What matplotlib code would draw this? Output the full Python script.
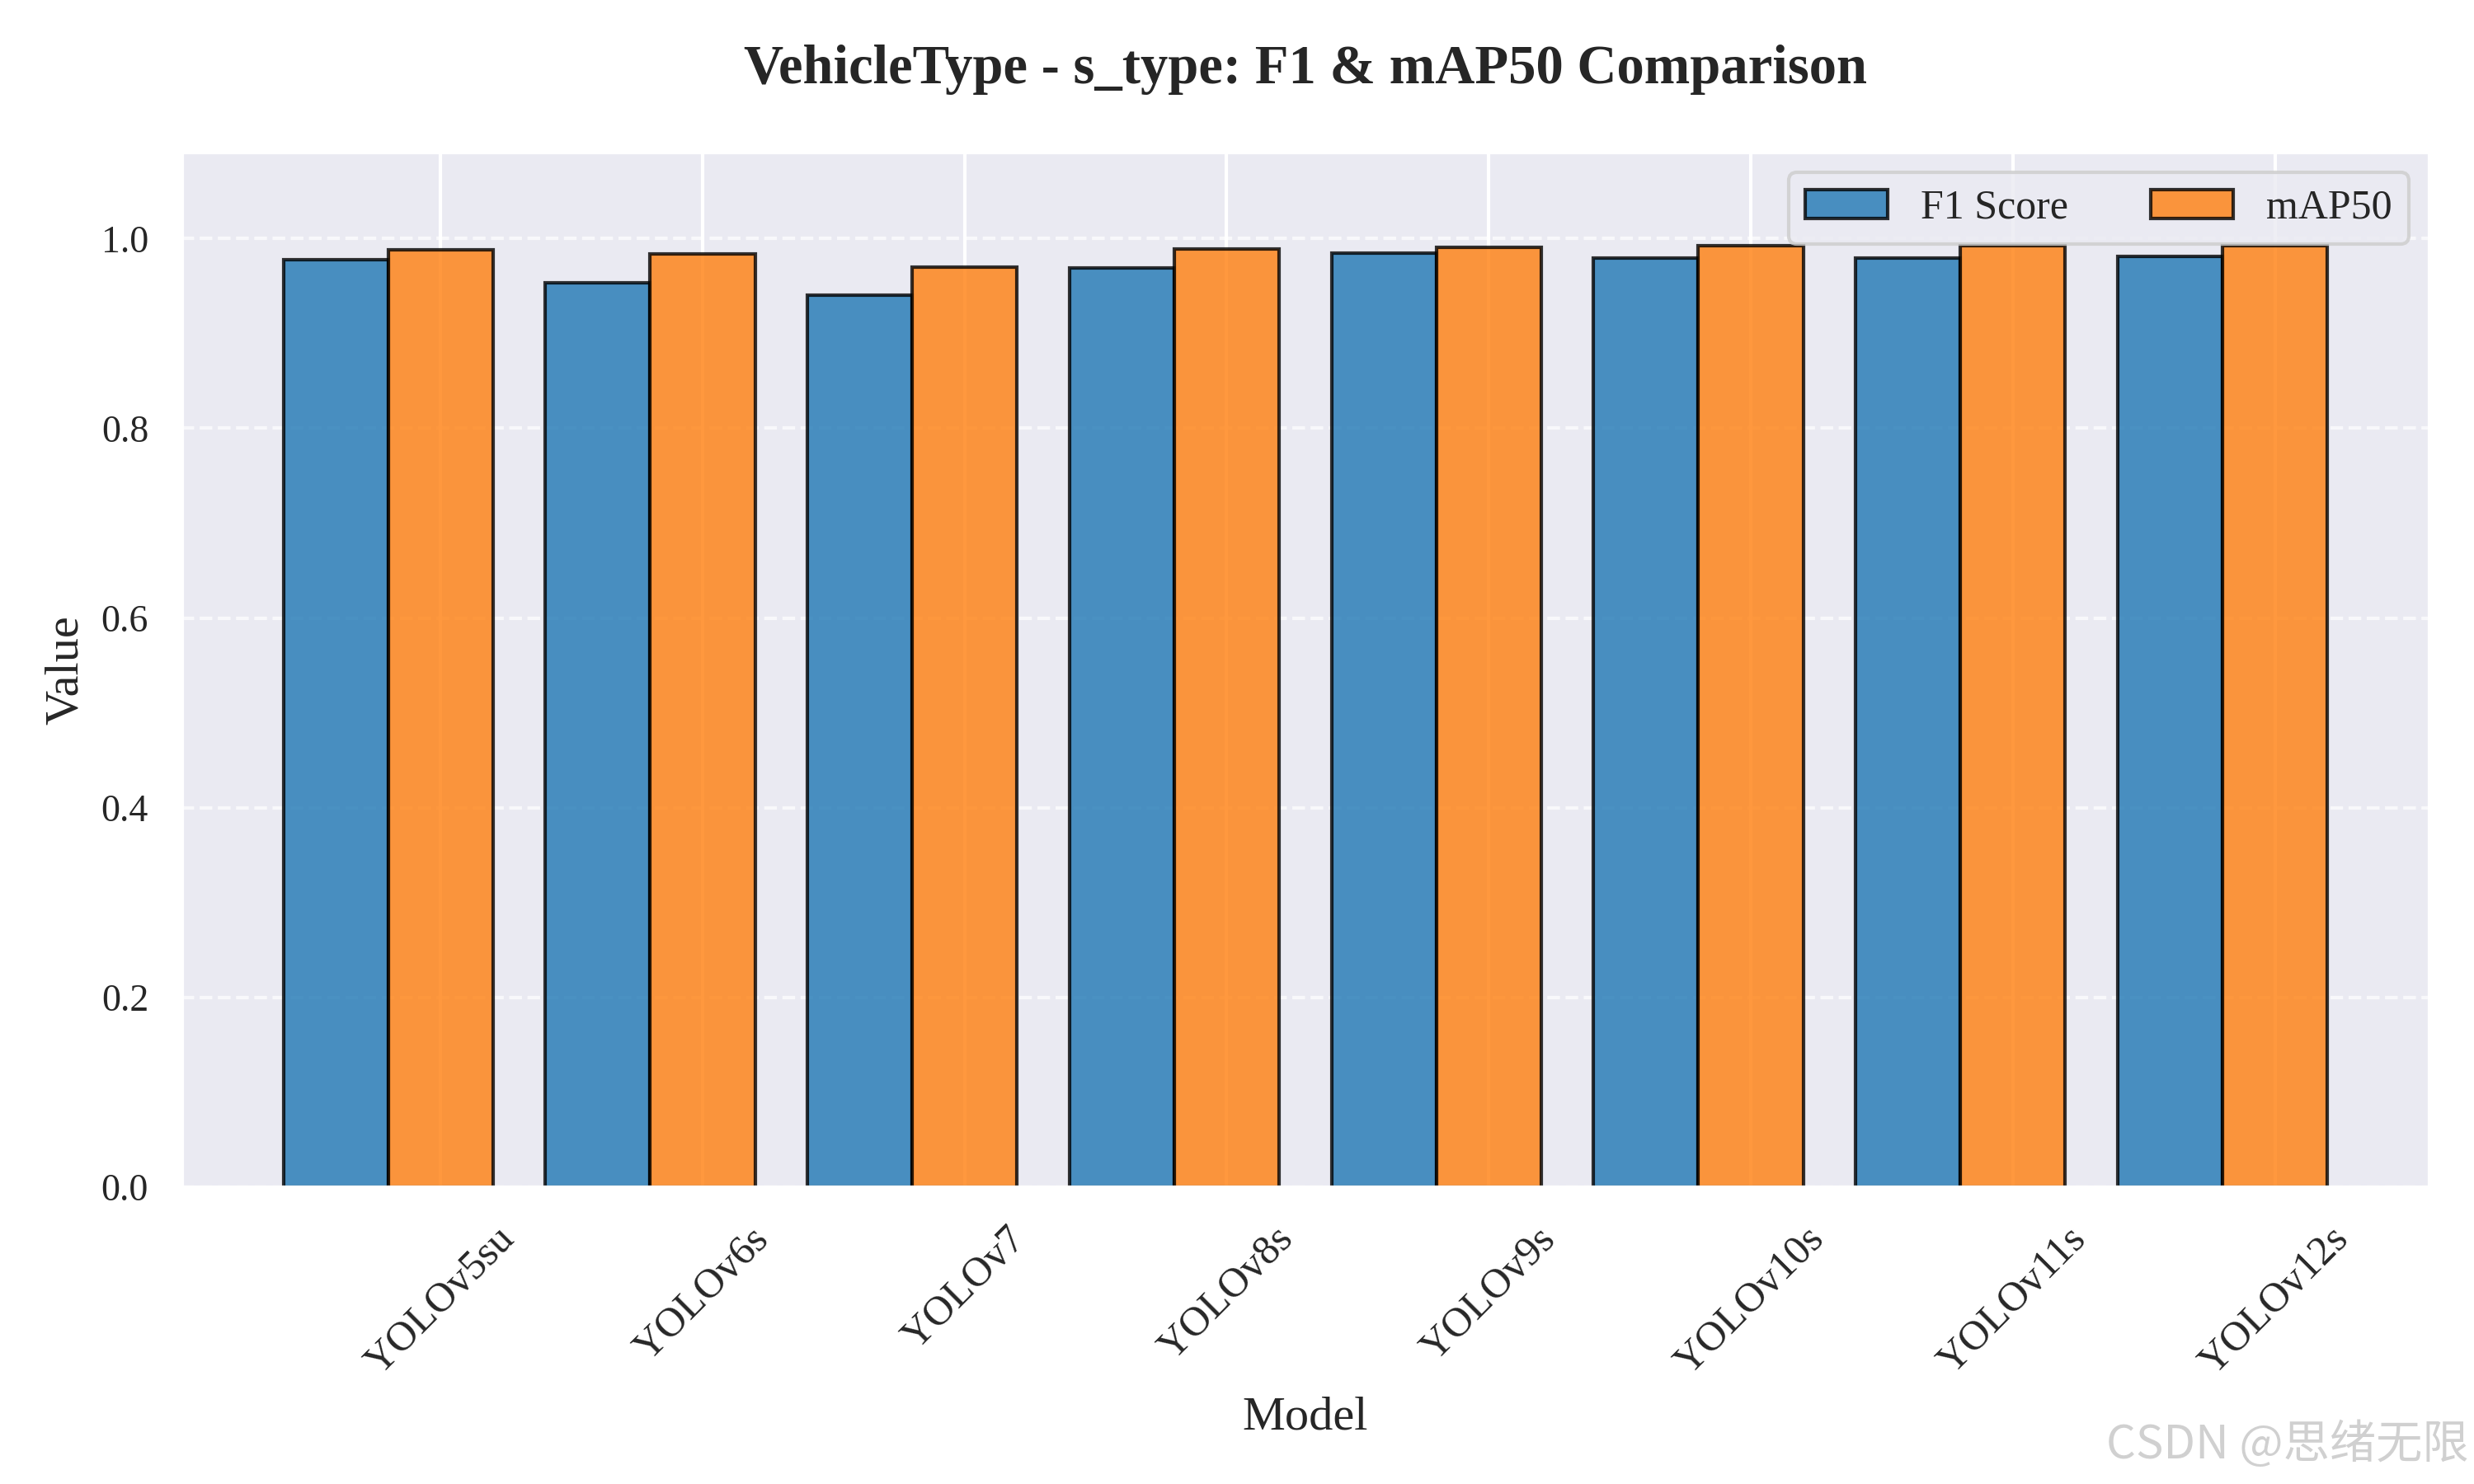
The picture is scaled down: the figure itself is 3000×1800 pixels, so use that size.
import numpy as np
import matplotlib
matplotlib.use('Agg')
import matplotlib.pyplot as plt
import seaborn as sns

models = ['YOLOv5su', 'YOLOv6s', 'YOLOv7', 'YOLOv8s', 'YOLOv9s', 'YOLOv10s', 'YOLOv11s', 'YOLOv12s']
f1_scores = [0.978, 0.953, 0.940, 0.969, 0.985, 0.979, 0.979, 0.981]
map50 = [0.988, 0.984, 0.970, 0.989, 0.991, 0.992, 0.992, 0.992]

sns.set_theme(style='darkgrid')
plt.rcParams['font.family'] = ['Liberation Serif', 'DejaVu Serif']

fig, ax = plt.subplots(figsize=(10, 6), dpi=300)
x = np.arange(len(models))
width = 0.4

ax.bar(x - width, f1_scores, width, label='F1 Score', color='tab:blue',
       edgecolor='black', alpha=0.8)
ax.bar(x, map50, width, label='mAP50', color='tab:orange',
       edgecolor='black', alpha=0.8)

ax.set_xticks(x)
ax.set_xticklabels(models, rotation=45, fontsize=12)
ax.tick_params(axis='y', labelsize=11)
ax.set_ylim(0, max(map50) * 1.1)
ax.set_xlabel('Model', fontsize=14)
ax.set_ylabel('Value', fontsize=14)
ax.set_title('VehicleType - s_type: F1 & mAP50 Comparison', fontsize=16,
             fontweight='bold', pad=20)
ax.grid(axis='y', linestyle='--', alpha=0.7)
ax.legend(loc='upper right', ncol=2, fontsize=12)

plt.tight_layout()
# watermark from the source image
fig.text(0.998, 0.010, 'CSDN @思绪无限', ha='right', va='bottom', fontsize=13.5,
         color='#d0d0d0', family=['Noto Sans CJK SC', 'DejaVu Sans'])
plt.savefig('out.png', dpi=300)
